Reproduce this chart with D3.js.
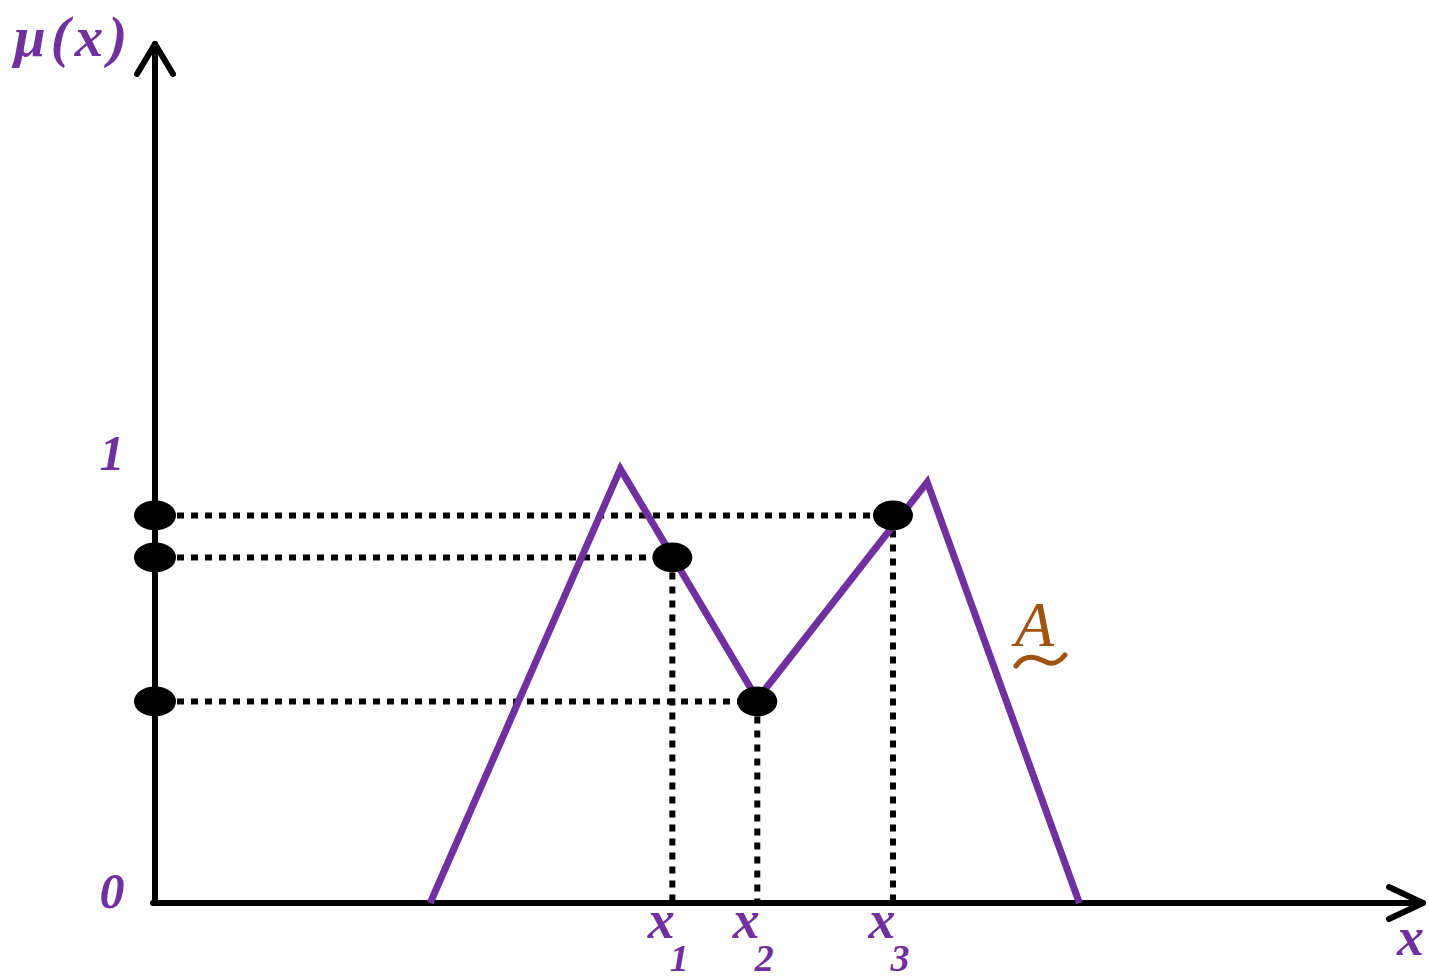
<!DOCTYPE html>
<html>
<head>
<meta charset="utf-8">
<script src="https://cdn.jsdelivr.net/npm/d3@7"></script>
<style>
  body { margin: 0; background: #fff; }
  svg { display: block; }
</style>
</head>
<body>
<div class="box"></div>
<script>
// membership function of the fuzzy set A (x in arbitrary units 0..100)
const curveX  = [21.7, 36.7, 47.5, 60.9, 72.9];
const curveMu = [0, 0.98, 0.46, 0.95, 0];

// marked points x1, x2, x3 and their membership grades
const markX   = [40.8, 47.5, 58.2];
const markMu  = [0.78, 0.455, 0.875];
const markSub = ['1', '2', '3'];

// tick labels on the mu axis
const yTicks  = [0, 1];

const purple = '#7030a0';
const brown  = '#a0520f';

const svg = d3.select('.box')
              .append('svg')
              .attr('width', 1429)
              .attr('height', 979)
              .style('background', '#fff');

const x = d3.scaleLinear().domain([0, 100]).range([155, 1423]);
const y = d3.scaleLinear().domain([0, 1]).range([903, 460]);

const originX = x(0), originY = y(0);
const topY = 44, rightX = x(100);

// dotted guide lines
const guides = svg.append('g')
                  .attr('stroke', '#000')
                  .attr('stroke-width', 6)
                  .attr('stroke-dasharray', '7 7')
                  .attr('fill', 'none');

markX.forEach((v, i) => {
  guides.append('line')
        .attr('x1', originX + 22).attr('y1', y(markMu[i]))
        .attr('x2', x(v)).attr('y2', y(markMu[i]));
  guides.append('line')
        .attr('x1', x(v)).attr('y1', y(markMu[i]) + 15)
        .attr('x2', x(v)).attr('y2', originY - 3);
});

// axes
const axes = svg.append('g')
                .attr('stroke', '#000')
                .attr('stroke-width', 6)
                .attr('fill', 'none')
                .attr('stroke-linecap', 'round')
                .attr('stroke-linejoin', 'round');

axes.append('path')
    .attr('d', `M${originX},${originY} L${originX},${topY}`);
axes.append('path')
    .attr('d', `M${originX - 18},${topY + 30} L${originX},${topY} L${originX + 18},${topY + 30}`);
axes.append('path')
    .attr('d', `M${originX - 2},${originY} L${rightX},${originY}`);
axes.append('path')
    .attr('d', `M${rightX - 34},${originY - 16} L${rightX},${originY} L${rightX - 34},${originY + 16}`);

// the membership curve
const line = d3.line()
               .x(d => x(d[0]))
               .y(d => y(d[1]));

svg.append('path')
   .datum(d3.zip(curveX, curveMu))
   .attr('d', line)
   .attr('fill', 'none')
   .attr('stroke', purple)
   .attr('stroke-width', 7)
   .attr('stroke-linejoin', 'miter');

// dots on the curve and on the mu axis
const dots = svg.append('g').attr('fill', '#000');
markX.forEach((v, i) => {
  dots.append('ellipse')
      .attr('cx', x(v)).attr('cy', y(markMu[i]))
      .attr('rx', 20).attr('ry', 15);
  dots.append('ellipse')
      .attr('cx', originX).attr('cy', y(markMu[i]))
      .attr('rx', 21).attr('ry', 15);
});

// texts
const serif = '"Liberation Serif", "DejaVu Serif", serif';

svg.append('text')
   .attr('x', 14).attr('y', 56)
   .attr('font-family', serif)
   .attr('font-style', 'italic')
   .attr('font-weight', 'bold')
   .attr('font-size', 57)
   .attr('letter-spacing', 5)
   .attr('fill', purple)
   .text('μ(x)');

svg.selectAll('.ytick')
   .data(yTicks)
   .enter()
   .append('text')
   .attr('class', 'ytick')
   .attr('x', 112)
   .attr('y', d => y(d) + (d === 0 ? 5 : 10))
   .attr('text-anchor', 'middle')
   .attr('font-family', serif)
   .attr('font-style', 'italic')
   .attr('font-weight', 'bold')
   .attr('font-size', 50)
   .attr('fill', purple)
   .text(d => d);

markX.forEach((v, i) => {
  svg.append('text')
     .attr('x', x(v) - 11).attr('y', 938)
     .attr('text-anchor', 'middle')
     .attr('font-family', serif)
     .attr('font-style', 'italic')
     .attr('font-weight', 'bold')
     .attr('font-size', 54)
     .attr('fill', purple)
     .text('x');
  svg.append('text')
     .attr('x', x(v) + 7).attr('y', 971)
     .attr('text-anchor', 'middle')
     .attr('font-family', serif)
     .attr('font-style', 'italic')
     .attr('font-weight', 'bold')
     .attr('font-size', 38)
     .attr('fill', purple)
     .text(markSub[i]);
});

svg.append('text')
   .attr('x', 1397).attr('y', 955)
   .attr('font-family', serif)
   .attr('font-style', 'italic')
   .attr('font-weight', 'bold')
   .attr('font-size', 54)
   .attr('fill', purple)
   .text('x');

// fuzzy set label A with tilde below
svg.append('text')
   .attr('x', 1015).attr('y', 646)
   .attr('font-family', serif)
   .attr('font-style', 'italic')
   .attr('font-size', 64)
   .attr('fill', brown)
   .text('A');

svg.append('path')
   .attr('d', 'M1016,666 C1026,651 1040,659 1046,662 C1054,666 1060,661 1065,655')
   .attr('fill', 'none')
   .attr('stroke', brown)
   .attr('stroke-width', 5)
   .attr('stroke-linecap', 'round');
</script>
</body>
</html>
